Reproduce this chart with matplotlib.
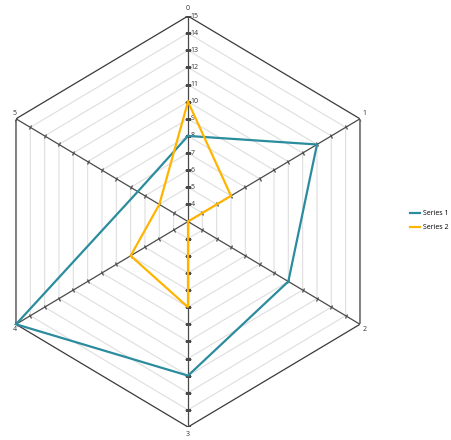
import numpy as np
import matplotlib
matplotlib.use("Agg")
import matplotlib.pyplot as plt
from matplotlib.markers import MarkerStyle
from matplotlib.transforms import Affine2D

plt.rcParams["font.family"] = ["Open Sans", "DejaVu Sans"]

# ---- data ----
categories = ["0", "1", "2", "3", "4", "5"]
series1 = [8, 12, 10, 12, 15, 6.5]
series2 = [10, 6, 3, 8, 7, 5]
series_names = ["Series 1", "Series 2"]
r_min, r_max = 3, 15
radial_labels = list(range(4, 16))

teal = "#2B8C9E"
yellow = "#FFB400"

fig = plt.figure(figsize=(4.52, 4.40), dpi=100)
ax = fig.add_axes([-0.0235, 0.0295, 0.8788, 0.934], projection="polar")
ax.set_aspect("auto")
ax.set_theta_zero_location("N")
ax.set_theta_direction(-1)
ax.set_ylim(r_min, r_max)
ax.grid(False)
ax.set_xticks([])
ax.set_yticks([])
for sp in ax.spines.values():
    sp.set_visible(False)
ax.patch.set_visible(False)

n = len(categories)
thetas = np.arange(n) * 2 * np.pi / n
closed = np.append(thetas, thetas[0])

# hexagonal grid
for r in range(r_min + 1, r_max):
    ax.plot(closed, [r] * (n + 1), color="#dedede", lw=0.8, zorder=1)
ax.plot(closed, [r_max] * (n + 1), color="#3a3a3a", lw=0.9, zorder=2)

# spokes and ticks (tick direction perpendicular to each spoke on screen)
tick_rot = [0, 121, 59, 0, 121, 59]
tick_size = [4.0, 3.5, 3.5, 4.0, 3.5, 3.5]
tick_vals = np.arange(r_min + 1, r_max + 1)
for t, rot, tsz in zip(thetas, tick_rot, tick_size):
    ax.plot([t, t], [r_min, r_max], color="#4a4a4a", lw=0.9, zorder=2)
    ms = MarkerStyle("_", transform=Affine2D().rotate_deg(rot))
    ln, = ax.plot([t] * len(tick_vals), tick_vals, ls="none", marker=ms,
                  markersize=tsz, markeredgewidth=0.9, color="#4a4a4a",
                  zorder=2)
    ln.set_snap(False)

# radial labels on axis 0
for v in radial_labels:
    ax.annotate(str(v), (0, v), xytext=(1.8, 0), textcoords="offset points",
                ha="left", va="center", fontsize=5, color="#333333")

# category labels
offsets = [(0, 3, "center", "bottom"), (2, 1, "left", "bottom"),
           (2, -1, "left", "top"), (0, -3, "center", "top"),
           (-1, -1, "center", "top"), (-1, 1, "center", "bottom")]
for t, lab, (dx, dy, ha, va) in zip(thetas, categories, offsets):
    ax.annotate(lab, (t, r_max), xytext=(dx, dy), textcoords="offset points",
                ha=ha, va=va, fontsize=5, color="#333333")

# data series
h1, = ax.plot(closed, series1 + [series1[0]], color=teal, lw=1.6, zorder=4,
              clip_on=False, solid_joinstyle="miter")
h2, = ax.plot(closed, series2 + [series2[0]], color=yellow, lw=1.6, zorder=5,
              clip_on=False, solid_joinstyle="miter")

fig.legend([h1, h2], series_names, loc="center left",
           bbox_to_anchor=(0.906, 0.498), frameon=False, fontsize=5,
           handlelength=1.5, handletextpad=0.4, labelspacing=1.0,
           borderaxespad=0, borderpad=0)

fig.savefig("out.png", dpi=100)
